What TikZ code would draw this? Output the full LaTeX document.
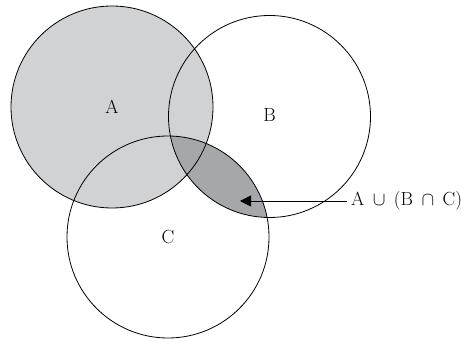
\RequirePackage{fix-cm}
\documentclass[tikz,border=0pt]{standalone}
\usetikzlibrary{arrows.meta}
\definecolor{lightg}{HTML}{D1D2D4}
\definecolor{darkg}{HTML}{A6A7AA}
\begin{document}
\begin{tikzpicture}[x=1pt,y=-1pt,
  setcirc/.style={circle,draw=black,line width=0.8pt,minimum size=202pt,inner sep=0pt,font=\fontsize{19}{22}\selectfont},
  labtext/.style={font=\fontsize{19}{22}\selectfont,inner sep=4pt,anchor=west}]
\useasboundingbox (0,0) rectangle (463,344);
\coordinate (cA) at (112,107);
\coordinate (cB) at (269.5,116.5);
\coordinate (cC) at (168,237);
% fills
\fill[lightg] (cA) circle (101);
\begin{scope}
  \clip (cB) circle (101);
  \fill[darkg] (cC) circle (101);
\end{scope}
% circles with labels
\node[setcirc] (A) at (cA) {A};
\node[setcirc] (B) at (cB) {\raisebox{3pt}{B}};
\node[setcirc] (C) at (cC) {C};
% arrow and label
\node[labtext] (lab) at (347,201) {$\mathrm{A}\mskip4mu\cup\mskip4mu(\mathrm{B}\mskip4mu\cap\mskip4mu\mathrm{C})$};
\coordinate (tip) at (240,201);
\draw[line width=0.8pt,-{Triangle[length=11pt,width=11pt]}] (lab.west) -- (tip);
\end{tikzpicture}
\end{document}
